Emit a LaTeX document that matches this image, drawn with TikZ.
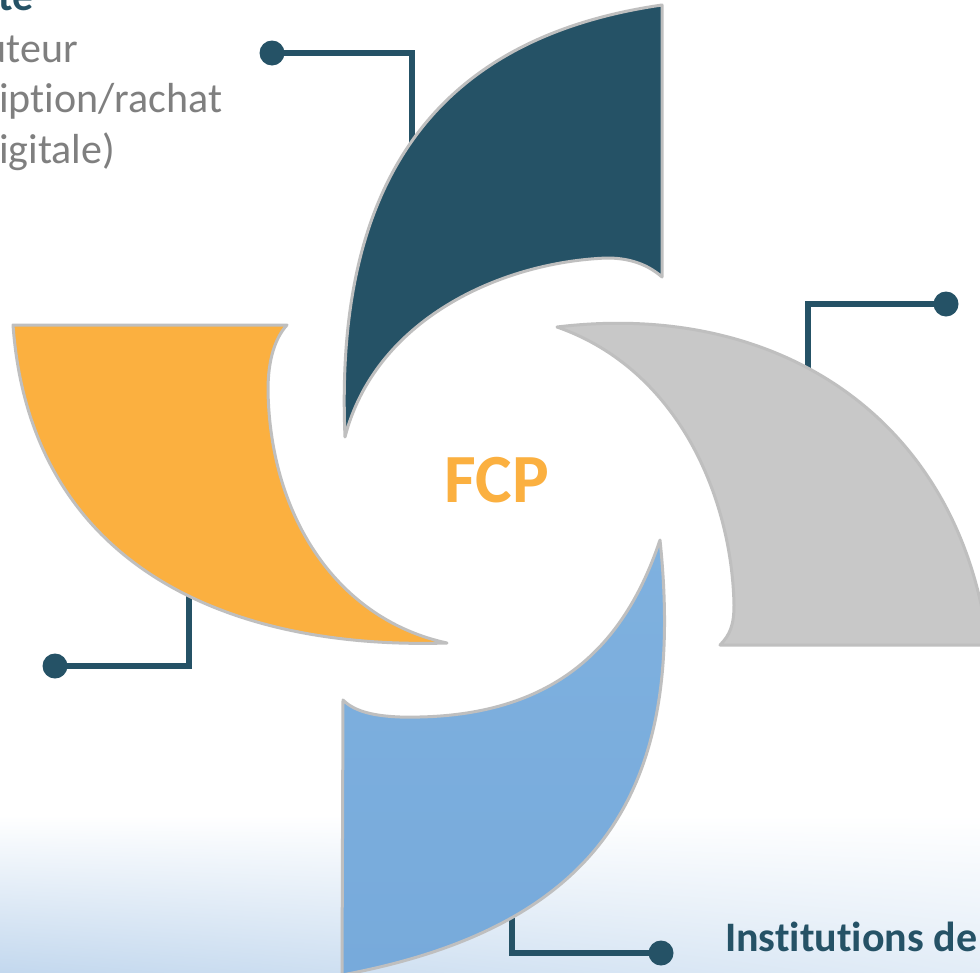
\documentclass[tikz,border=0pt]{standalone}
\usepackage{fontspec}
\usetikzlibrary{shadings}
\setmainfont{Carlito}[Ligatures=NoCommon]
\definecolor{fcpteal}{HTML}{255266}
\definecolor{fcpgray}{HTML}{7F7F7F}
\definecolor{fcpgrayp}{HTML}{C8C8C8}
\definecolor{fcporange}{HTML}{FBB040}
\definecolor{fcpblue}{HTML}{7FB1DF}
\definecolor{fcpblue2}{HTML}{77AADB}
\definecolor{petalline}{HTML}{BFBFBF}
\definecolor{bgA}{HTML}{C3D8EE}
\definecolor{bgB}{HTML}{E3EDF7}
\begin{document}
\begin{tikzpicture}[x=1pt,y=-1pt,
  petal/.style={draw=petalline, line width=3pt, line join=round},
  conn/.style={draw=fcpteal, line width=5.5pt, line join=miter},
  dotn/.style={circle, fill=fcpteal, minimum size=25pt, inner sep=0pt},
  graytxt/.style={text=fcpgray, font=\fontsize{42}{50}\selectfont, inner sep=0pt},
  headtxt/.style={text=fcpteal, font=\fontsize{42}{50}\selectfont\bfseries, inner sep=0pt}]
\clip (0,0) rectangle (980,972);
\fill[white] (0,0) rectangle (980,972);
\shade[upper left=white, upper right=white, lower left=bgA, lower right=bgB] (0,815) rectangle (980,972);

% connectors
\node[dotn] (d1) at (272,53) {};
\coordinate (k1) at (412,53);
\coordinate (e1) at (412,150);
\draw[conn] (d1.center) -- (k1) -- (e1);

\node[dotn] (d2) at (946,304) {};
\coordinate (k2) at (808,304);
\coordinate (e2) at (808,370);
\draw[conn] (d2.center) -- (k2) -- (e2);

\node[dotn] (d3) at (55,666) {};
\coordinate (k3) at (189,666);
\coordinate (e3) at (189,595);
\draw[conn] (d3.center) -- (k3) -- (e3);

\node[dotn] (d4) at (661,953) {};
\coordinate (k4) at (512,953);
\coordinate (e4) at (512,900);
\draw[conn] (d4.center) -- (k4) -- (e4);

% petals
\path[petal, fill=fcpteal] (662,5) -- (662,277)
  .. controls (645,262) and (625,258) .. (607,258)
  .. controls (500,262) and (375,320) .. (345,437)
  .. controls (335,200) and (420,40) .. (662,5) -- cycle;

\path[petal, fill=fcpgrayp] (988,645) -- (720,645)
  .. controls (730,635) and (734,625) .. (734,605)
  .. controls (732,500) and (680,370) .. (557,327)
  .. controls (780,300) and (960,420) .. (988,645) -- cycle;

\path[petal, fill=fcporange] (13,325) -- (287,325)
  .. controls (275,338) and (268,360) .. (268,390)
  .. controls (270,520) and (340,620) .. (447,643)
  .. controls (220,650) and (30,560) .. (13,325) -- cycle;

\path[petal, top color=fcpblue, bottom color=fcpblue2] (342,975) -- (343,700)
  .. controls (355,712) and (375,716) .. (400,717)
  .. controls (540,720) and (620,660) .. (660,540)
  .. controls (685,780) and (610,925) .. (342,975) -- cycle;

% texts
\node[font=\fontsize{69}{80}\selectfont\bfseries, text=fcporange, anchor=base, inner sep=0pt] (fcp) at (497,502) {FCP};
\node[headtxt, anchor=base east] (h1) at (34,10) {te};
\node[graytxt, anchor=base east] (g1) at (78,62) {uteur};
\node[graytxt, anchor=base west] (g2) at (-1,112) {iption/rachat};
\node[graytxt, anchor=base west] (g3) at (-1,163) {igitale)};
\node[headtxt, anchor=base west] (h2) at (725,951) {Institutions de};
\end{tikzpicture}
\end{document}
